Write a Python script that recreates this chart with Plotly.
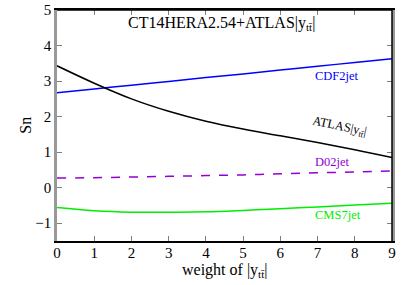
import plotly.graph_objects as go

weights = [0, 1, 2, 3, 4, 5, 6, 7, 8, 9]
cdf2jet = [2.67, 2.78, 2.88, 2.99, 3.10, 3.20, 3.31, 3.42, 3.52, 3.63]
atlas = [3.43, 2.94, 2.50, 2.15, 1.87, 1.65, 1.46, 1.27, 1.07, 0.85]
d02jet = [0.27, 0.28, 0.30, 0.32, 0.34, 0.36, 0.39, 0.42, 0.44, 0.47]
cms7jet = [-0.56, -0.65, -0.69, -0.69, -0.68, -0.64, -0.59, -0.54, -0.49, -0.44]
y_ticks = [-1, 0, 1, 2, 3, 4, 5]

FONT = "Liberation Serif, Times New Roman, serif"
fig = go.Figure()
fig.add_trace(go.Scatter(x=weights, y=cdf2jet, mode="lines", line=dict(color="#0000ff", width=1.5, shape="spline")))
fig.add_trace(go.Scatter(x=weights, y=atlas, mode="lines", line=dict(color="#000000", width=1.5, shape="spline")))
fig.add_trace(go.Scatter(x=weights, y=d02jet, mode="lines", line=dict(color="#9400d3", width=1.5, dash="dash", shape="spline")))
fig.add_trace(go.Scatter(x=weights, y=cms7jet, mode="lines", line=dict(color="#00ee00", width=1.5, shape="spline")))

ann = [
    dict(x=7.52, y=3.14, text="CDF2jet", color="#0000ff", angle=0),
    dict(x=7.6, y=1.72, text="ATLAS|y<sub>tt̄</sub>|", color="#000000", angle=12),
    dict(x=7.4, y=0.72, text="D02jet", color="#9400d3", angle=0),
    dict(x=7.55, y=-0.77, text="CMS7jet", color="#00ee00", angle=0),
]
for a in ann:
    fig.add_annotation(x=a["x"], y=a["y"], text=a["text"], showarrow=False, textangle=a["angle"],
                       font=dict(family=FONT, size=12.5, color=a["color"]))

fig.add_annotation(x=0.49, y=0.99, xref="paper", yref="paper", xanchor="center", yanchor="top",
                   text="CT14HERA2.54+ATLAS|y<sub>tt̄</sub>|", showarrow=False,
                   font=dict(family=FONT, size=16, color="black"))
# axis titles
fig.add_annotation(x=0.5, y=-0.127, xref="paper", yref="paper", xanchor="center", yanchor="middle",
                   text="weight of |y<sub>tt̄</sub>|", showarrow=False,
                   font=dict(family=FONT, size=16, color="black"))
fig.add_annotation(x=-0.095, y=0.5, xref="paper", yref="paper", xanchor="center", yanchor="middle",
                   text="Sn", textangle=-90, showarrow=False,
                   font=dict(family=FONT, size=16, color="black"))

fig.add_shape(type="line", xref="paper", yref="paper", x0=1, x1=1, y0=0, y1=1,
              line=dict(color="black", width=1.5))
fig.add_shape(type="line", xref="paper", yref="paper", x0=0, x1=1, y0=1, y1=1,
              line=dict(color="black", width=1.5))

fig.update_layout(
    width=407, height=285,
    margin=dict(l=57, r=15, t=10, b=44),
    paper_bgcolor="white", plot_bgcolor="white",
    showlegend=False,
    font=dict(family=FONT, size=15, color="black"),
    xaxis=dict(range=[0, 9], tickvals=weights, ticks="inside", ticklen=5, tickcolor="gray",
               tickfont=dict(family=FONT, size=15, color="black"), automargin=False,
               ticklabelstandoff=-3,
               showline=True, linecolor="black", linewidth=1.5, mirror="ticks", showgrid=False,
               zeroline=False),
    yaxis=dict(range=[-1.5, 5], tickvals=y_ticks, ticks="inside", ticklen=5,
               tickfont=dict(family=FONT, size=15, color="black"), automargin=False,
               tickcolor="gray", showline=True, linecolor="#999999", linewidth=2.5, mirror="ticks",
               showgrid=False, zeroline=False),
)
fig.write_html("out.html", config={"displayModeBar": False},
               post_script="document.body.style.margin='0';document.body.style.overflow='hidden';")
